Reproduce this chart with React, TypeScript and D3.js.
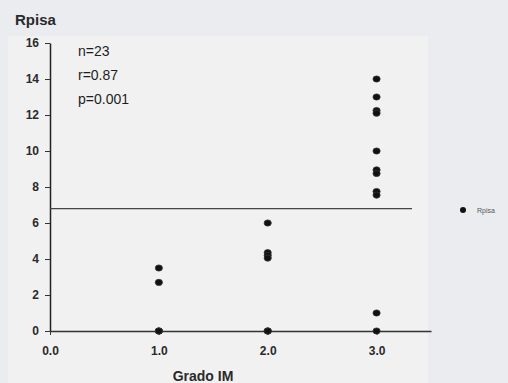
import * as d3 from 'd3';
import React, { useEffect, useRef } from 'react';

const grado = [1, 1, 1, 1, 2, 2, 2, 2, 2, 2, 2, 3, 3, 3, 3, 3, 3, 3, 3, 3, 3, 3, 1];
const rpisa = [3.5, 2.7, 0, 0, 6, 4.35, 4.2, 4.05, 0, 0, 0, 14, 13, 12.25, 12.1, 10, 8.95, 8.75, 7.75, 7.55, 1, 0, 0];
const yTicks = [0, 2, 4, 6, 8, 10, 12, 14, 16];
const xTicks = [0, 1, 2, 3];
const refLine = 6.8;
const stats = ['n=23', 'r=0.87', 'p=0.001'];

function App() {
    const ref = useRef(null);

    useEffect(() => {
        const svg = d3.select(ref.current);
        svg.selectAll('*').remove();

        svg.append('rect').attr('width', 508).attr('height', 383).attr('fill', '#eaecf0');
        svg.append('rect').attr('x', 8).attr('y', 36).attr('width', 420).attr('height', 347).attr('fill', '#f1f1f1');

        const x = d3.scaleLinear().domain([0, 3.5]).range([50, 431]);
        const y = d3.scaleLinear().domain([0, 16]).range([331, 43]);
        const font = 'Liberation Sans, Arial, sans-serif';

        // titulo
        svg.append('text').attr('x', 15).attr('y', 25).text('Rpisa')
            .style('font-family', font).style('font-size', '15px').style('font-weight', 700).attr('fill', '#2a2a2a');

        // eje y
        const ya = svg.append('g').attr('transform', 'translate(50,0)')
            .call(d3.axisLeft(y).tickValues(yTicks).tickSize(5).tickSizeOuter(0).tickFormat(d3.format('d')));
        ya.select('.domain').attr('stroke', '#222').attr('stroke-width', 1.5);
        ya.selectAll('line').attr('stroke', '#333');
        ya.selectAll('text').attr('x', -11).style('font-family', font).style('font-size', '12px')
            .style('font-weight', 700).attr('fill', '#2a2a2a');

        // eje x
        const xa = svg.append('g').attr('transform', 'translate(0,331)')
            .call(d3.axisBottom(x).tickValues(xTicks).tickSize(4).tickSizeOuter(0).tickFormat(d3.format('.1f')));
        xa.select('.domain').attr('stroke', '#333').attr('stroke-width', 1.3);
        xa.selectAll('line').attr('stroke', '#333');
        xa.selectAll('text').attr('y', 15).style('font-family', font).style('font-size', '12px')
            .style('font-weight', 700).attr('fill', '#2a2a2a');

        svg.append('text').attr('x', 203).attr('y', 381).attr('text-anchor', 'middle').text('Grado IM')
            .style('font-family', font).style('font-size', '14px').style('font-weight', 700).attr('fill', '#2a2a2a');

        // linea de referencia
        svg.append('line').attr('x1', 50).attr('x2', 412).attr('y1', y(refLine)).attr('y2', y(refLine))
            .attr('stroke', '#444').attr('stroke-width', 1.2);

        // estadisticas
        svg.selectAll('text.stat').data(stats).enter().append('text')
            .attr('class', 'stat').attr('x', 78).attr('y', (d, i) => 56 + i * 24).text(d => d)
            .style('font-family', font).style('font-size', '14px').attr('fill', '#1e1e1e');

        // puntos
        svg.selectAll('ellipse.pt').data(grado).enter().append('ellipse')
            .attr('class', 'pt')
            .attr('cx', d => x(d))
            .attr('cy', (d, i) => y(rpisa[i]))
            .attr('rx', 3.6).attr('ry', 3.1)
            .attr('fill', '#111').attr('stroke', '#333').attr('stroke-width', 0.8);

        // leyenda
        svg.append('circle').attr('cx', 463).attr('cy', 210).attr('r', 3).attr('fill', '#111');
        svg.append('text').attr('x', 477).attr('y', 213).text('Rpisa')
            .style('font-family', font).style('font-size', '7px').attr('fill', '#555');
    }, []);

    return (
        <svg ref={ref} width={508} height={383} style={{ position: 'absolute', left: 0, top: 0 }}></svg>
    );
}

export default App;
